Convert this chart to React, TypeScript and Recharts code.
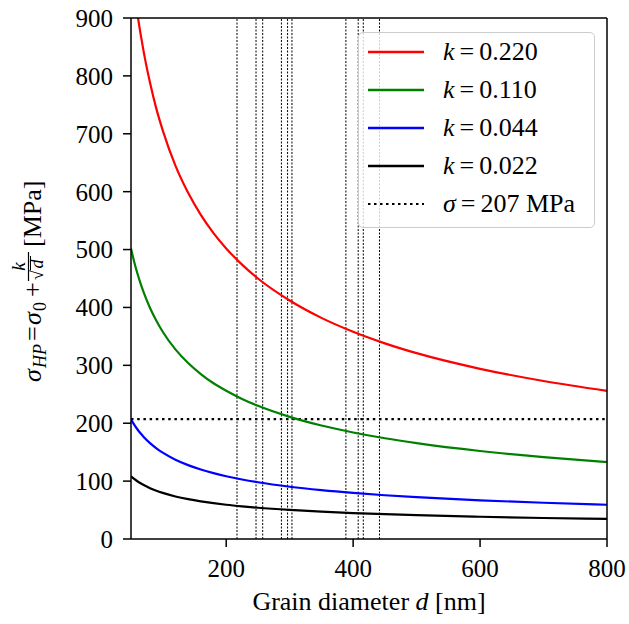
import React from 'react';
import { LineChart, Line, XAxis, YAxis, ReferenceLine } from 'recharts';

// Grain diameter d [nm]
const grainDiameter = [50, 55, 60, 65, 70, 80, 90, 100, 120, 140, 160, 180, 200, 225, 250, 300, 350, 400, 450, 500, 600, 700, 800];
// sigma_HP [MPa] per k
const sigmaK220 = [994, 948, 908, 873, 841.5, 788, 743, 706, 645, 598, 560, 528.5, 502, 474, 450, 412, 382, 358, 338, 321, 294, 273, 256];
const sigmaK110 = [502, 479, 459, 441.5, 426, 399, 377, 358, 327.5, 304, 285, 269, 256, 242, 230, 211, 196, 184, 174, 165.6, 152, 141.5, 133];
const sigmaK044 = [206.8, 197.6, 189.6, 182.6, 176.3, 165.6, 156.7, 149.1, 137, 127.6, 120, 113.7, 108.4, 102.8, 98, 90.3, 84.4, 79.6, 75.6, 72.2, 66.8, 62.6, 59.2];
const sigmaK022 = [108.4, 103.8, 99.8, 96.3, 93.2, 87.8, 83.3, 79.6, 73.5, 68.8, 65, 61.9, 59.2, 56.4, 54, 50.2, 47.2, 44.8, 42.8, 41.1, 38.4, 36.3, 34.6];

const kLabels = ['0.220', '0.110', '0.044', '0.022'];
const seriesKeys = ['k220', 'k110', 'k044', 'k022'];
const seriesColors = ['#ff0000', '#008000', '#0000ff', '#000000'];
const thresholdStress = 207;
const measuredGrainSizes = [217, 247, 257.5, 287, 296.7, 303.6, 388.6, 408, 416, 441.5];

const xTicks = [200, 400, 600, 800];
const yTicks = [0, 100, 200, 300, 400, 500, 600, 700, 800, 900];

const data = grainDiameter.map((d, i) => ({
  d,
  k220: sigmaK220[i],
  k110: sigmaK110[i],
  k044: sigmaK044[i],
  k022: sigmaK022[i],
}));

const FONT = 'Liberation Serif, Times New Roman, serif';

const YLabel = () => (
  <g transform="translate(41,382) rotate(-90)" fill="#000" fontFamily={FONT}>
    <text fontSize={26} fill="#000">
      <tspan x={0} y={0} fontStyle="italic">σ</tspan>
      <tspan x={14} y={5} fontSize={18} fontStyle="italic">HP</tspan>
      <tspan x={41} y={0}>=</tspan>
      <tspan x={57} y={0} fontStyle="italic">σ</tspan>
      <tspan x={71} y={5} fontSize={18}>0</tspan>
      <tspan x={85} y={0}>+</tspan>
      <tspan x={115.5} y={-16} fontSize={19} fontStyle="italic" textAnchor="middle">k</tspan>
      <tspan x={102} y={2} fontSize={18}>√</tspan>
      <tspan x={113.5} y={2} fontSize={18} fontStyle="italic">d</tspan>
      <tspan x={135} y={0}>[MPa]</tspan>
    </text>
    <line x1={101} x2={130} y1={-12.5} y2={-12.5} stroke="#000" strokeWidth={1.2} />
    <line x1={111.5} x2={126} y1={-10.5} y2={-10.5} stroke="#000" strokeWidth={1} />
  </g>
);

const XLabel = () => (
  <text x={369} y={610} textAnchor="middle" fontSize={26} fontFamily={FONT} fill="#000">
    {'Grain diameter '}
    <tspan fontStyle="italic">d</tspan>
    {' [nm]'}
  </text>
);

const LegendSample = ({ color, dotted }: { color: string; dotted?: boolean }) => (
  <svg width={56} height={6} style={{ display: 'block' }}>
    <line
      x1={0}
      x2={56}
      y1={3}
      y2={3}
      stroke={color}
      strokeWidth={dotted ? 2.2 : 2.5}
      strokeDasharray={dotted ? '2.5 3.5' : undefined}
    />
  </svg>
);

const rowCenters = [19, 57, 95, 133, 171];

const LegendBox = () => (
  <div
    style={{
      position: 'absolute',
      left: 358,
      top: 32,
      width: 237,
      height: 196,
      boxSizing: 'border-box',
      border: '1.3px solid #cccccc',
      borderRadius: 5,
      background: 'rgba(255,255,255,0.8)',
      fontFamily: FONT,
      fontSize: 26,
      color: '#000',
    }}
  >
    {kLabels.map((lab, i) => (
      <div
        key={lab}
        style={{
          position: 'absolute',
          left: 9,
          top: rowCenters[i] - 15,
          height: 30,
          display: 'flex',
          alignItems: 'center',
          whiteSpace: 'nowrap',
        }}
      >
        <LegendSample color={seriesColors[i]} />
        <span style={{ marginLeft: 19, lineHeight: '30px' }}>
          <i>k</i>
          <span style={{ margin: '0 5px' }}>=</span>
          {lab}
        </span>
      </div>
    ))}
    <div
      style={{
        position: 'absolute',
        left: 9,
        top: rowCenters[4] - 15,
        height: 30,
        display: 'flex',
        alignItems: 'center',
        whiteSpace: 'nowrap',
      }}
    >
      <LegendSample color="#000" dotted />
      <span style={{ marginLeft: 19, lineHeight: '30px' }}>
        <i>σ</i>
        <span style={{ margin: '0 5px' }}>=</span>
        {thresholdStress} MPa
      </span>
    </div>
  </div>
);

export default function App() {
  return (
    <div style={{ position: 'absolute', left: 0, top: 0, width: 629, height: 624, background: '#fff' }}>
      <LineChart
        width={629}
        height={624}
        data={data}
        margin={{ top: 18, right: 22, left: 0, bottom: 0 }}
      >
        <XAxis
          dataKey="d"
          type="number"
          domain={[50, 800]}
          ticks={xTicks}
          interval={0}
          allowDataOverflow
          height={85}
          tickSize={8}
          tickMargin={12}
          tick={{ fill: '#000', fontSize: 25, fontFamily: FONT }}
          tickLine={{ stroke: '#000', strokeWidth: 1.5 }}
          axisLine={{ stroke: '#000', strokeWidth: 1.5 }}
          label={<XLabel />}
        />
        <YAxis
          type="number"
          domain={[0, 900]}
          ticks={yTicks}
          interval={0}
          allowDataOverflow
          width={131}
          tickSize={8}
          tickMargin={10}
          tick={{ fill: '#000', fontSize: 25, fontFamily: FONT }}
          tickLine={{ stroke: '#000', strokeWidth: 1.5 }}
          axisLine={{ stroke: '#000', strokeWidth: 1.5 }}
          label={<YLabel />}
        />
        {measuredGrainSizes.map((g) => (
          <ReferenceLine key={g} x={g} stroke="#000" strokeWidth={1} strokeDasharray="2 1.5" />
        ))}
        <ReferenceLine y={thresholdStress} stroke="#000" strokeWidth={2.2} strokeDasharray="2.5 3.7" />
        {seriesKeys.map((key, i) => (
          <Line
            key={key}
            dataKey={key}
            type="monotone"
            stroke={seriesColors[i]}
            strokeWidth={2.2}
            dot={false}
            activeDot={false}
            isAnimationActive={false}
          />
        ))}
        <ReferenceLine y={900} stroke="#000" strokeWidth={1.5} />
        <ReferenceLine x={800} stroke="#000" strokeWidth={1.5} />
      </LineChart>
      <LegendBox />
    </div>
  );
}
